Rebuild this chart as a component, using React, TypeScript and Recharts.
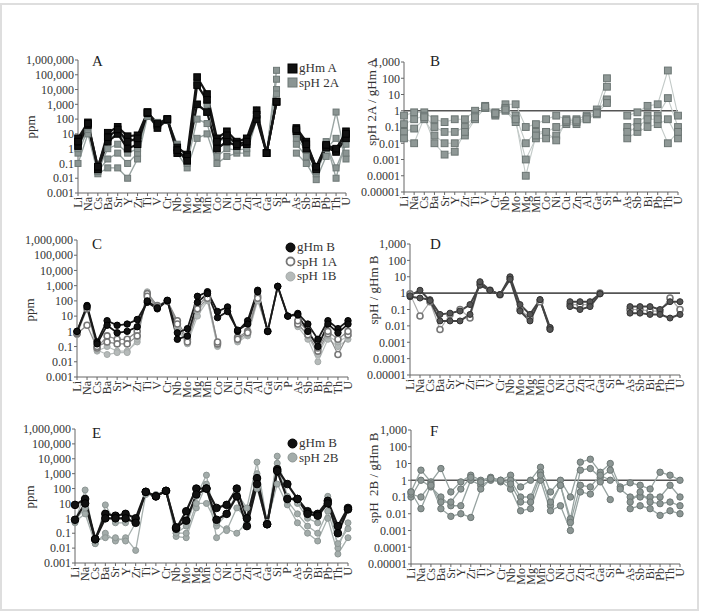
import React from "react";
import { LineChart, Line, XAxis, YAxis, ReferenceLine } from "recharts";

const FONT = '"Liberation Serif", "DejaVu Serif", serif';

const elements = ["Li","Na","Cs","Ba","Sr","Y","Zr","Ti","V","Cr","Nb","Mo","Mg","Mn","Co","Ni","Cu","Zn","Al","Ga","Si","P","As","Sb","Bi","Pb","Th","U"];

const ppmTicks = [0.001, 0.01, 0.1, 1, 10, 100, 1000, 10000, 100000, 1000000];
const ratioTicks = [0.00001, 0.0001, 0.001, 0.01, 0.1, 1, 10, 100, 1000];

// A: gHm A (black) and spH 2A (grey), ppm
const gHmA1 = [5, 60, 0.05, 12, 30, 7, 8, 300, 40, 100, 1.2, 0.4, 70000, 5000, 5, 15, 3, 5, 400, 0.5, 1500, null, 25, 3, 0.05, 1.5, 0.8, 15];
const gHmA2 = [1.5, 40, 0.04, 3, 10, 1, 2, 250, 25, 90, 0.5, 0.3, 1000, 300, 1, 3, 1.5, 2, 100, 0.5, 1500, null, 15, 1, 0.04, 1.2, 0.6, 5];
const gHmA3 = [3, 50, 0.06, 6, 20, 3, 5, 280, 50, 100, 0.8, 0.15, 20000, 2000, 3, 8, 2, 3, 200, 0.5, 1500, null, 20, 2, 0.06, 1.8, 1, 10];
const spH2A1 = [0.1, 10, 0.02, 0.05, 0.05, 0.01, 0.2, 150, 30, 80, 0.5, 0.05, 5, 10, 0.1, 0.3, 0.5, 0.5, 100, 0.5, 200000, null, 0.5, 0.1, 0.008, 0.3, 300, 0.2];
const spH2A2 = [0.5, 20, 0.03, 0.2, 0.5, 0.1, 0.5, 200, 40, 90, 1, 0.1, 100, 50, 0.3, 1, 0.8, 1, 100, 0.5, 50000, null, 2, 0.3, 0.02, 1, 5, 0.5];
const spH2A3 = [1, 30, 0.03, 1, 2, 0.5, 1, 250, 50, 100, 2, 0.2, 1000, 300, 1, 3, 1.5, 2, 120, 0.5, 10000, null, 5, 0.8, 0.03, 2, 0.05, 2];
const spH2A4 = [3, 50, 0.04, 5, 10, 3, 5, 300, 60, 110, 1.5, 0.3, 30000, 1000, 3, 5, 2, 3, 150, 0.5, 5000, null, 10, 1, 0.05, 3, 0.01, 5];

// B: spH 2A / gHm A
const ratB1 = [0.5, 0.8, 0.8, 0.3, 0.2, 0.3, 0.3, 1, 2, 0.8, 2.5, 2.5, 0.1, 0.15, 0.3, 0.5, 0.3, 0.3, 0.5, 1.2, 100, null, 0.5, 0.8, 2, 2.5, 300, 0.5];
const ratB2 = [0.15, 0.3, 0.5, 0.1, 0.05, 0.05, 0.1, 0.5, 1.5, 0.5, 1.5, 0.5, 0.01, 0.05, 0.05, 0.1, 0.15, 0.15, 0.3, 0.6, 30, null, 0.1, 0.2, 0.5, 0.5, 6, 0.1];
const ratB3 = [0.05, 0.08, 0.3, 0.03, 0.01, 0.01, 0.03, 0.3, 1.5, 0.6, 1, 0.2, 0.001, 0.02, 0.02, 0.03, 0.2, 0.2, 0.4, 0.8, 5, null, 0.02, 0.05, 0.1, 0.15, 0.3, 0.02];
const ratB4 = [0.02, 0.01, 0.4, 0.01, 0.002, 0.003, 0.05, 0.4, 1.8, 0.7, 1.2, 0.3, 0.0001, 0.03, 0.05, 0.015, 0.25, 0.25, 0.3, 0.7, 3, null, 0.05, 0.1, 0.3, 0.3, 0.01, 0.05];

// C: gHm B (black), spH 1A (rings), spH 1B (light)
const gHmBc1 = [1, 50, 0.2, 5, 2.5, 3, 6, 80, 30, 100, 0.8, 1.5, 200, 400, 20, 40, 1, 5, 500, 1, 900, 10, 15, 3, 0.3, 5, 1.5, 5];
const gHmBc2 = [1, 40, 0.15, 2.5, 0.8, 1, 2, 100, 35, 110, 0.3, 0.5, 80, 300, 8, 20, 1.2, 3, 400, 1, 900, 10, 12, 1, 0.1, 3, 0.8, 3];
const spH1A1 = [0.7, 2.5, 0.08, 0.5, 0.3, 0.3, 1, 300, 50, 100, 5, 0.3, 50, 200, 0.15, null, 0.4, 1, 200, 1, null, null, 3, 0.6, 0.05, 0.7, 0.03, 0.6];
const spH1A2 = [0.8, 30, 0.1, 0.2, 0.15, 0.15, 0.5, 200, 40, 100, 3, 0.2, 30, 150, 0.2, null, 0.3, 0.8, 150, 1, null, null, 5, 1, 0.08, 1, 0.3, 1];
const spH1B1 = [0.6, 30, 0.05, 0.1, 0.05, 0.05, 0.2, 400, 40, 100, 2, 0.15, 10, 100, 0.1, null, 0.2, 0.5, 100, 1, null, null, 2, 0.3, 0.01, 0.3, 0.1, 0.3];
const spH1B2 = [0.7, 50, 0.06, 0.03, 0.04, 0.04, 0.3, 350, 45, 100, 1, 0.2, 20, 120, 0.12, null, 0.25, 0.6, 150, 1, null, null, 3, 0.5, 0.03, 0.5, 0.2, 0.5];

// D: spH / gHm B
const ratD1 = [0.6, 0.5, 0.4, 0.05, 0.06, 0.08, 0.2, 3, 1.5, 0.8, 10, 0.2, 0.05, 0.4, 0.008, null, 0.3, 0.3, 0.3, 0.9, null, null, 0.15, 0.15, 0.15, 0.1, 0.3, 0.3];
const ratD2 = [0.7, 1.5, 0.35, 0.02, 0.02, 0.02, 0.05, 5, 1.5, 0.8, 7, 0.08, 0.02, 0.4, 0.006, null, 0.15, 0.1, 0.15, 0.9, null, null, 0.06, 0.06, 0.05, 0.05, 0.03, 0.05];
const ratD3 = [0.9, 0.04, 0.3, 0.006, 0.05, 0.1, 0.03, 4, 1.5, 0.8, 8, 0.1, 0.03, 0.3, 0.007, null, 0.2, 0.2, 0.2, 1, null, null, 0.1, 0.1, 0.08, 0.08, 0.5, 0.1];

// E: gHm B (black), spH 2B (grey)
const gHmBe1 = [8, 20, 0.04, 2, 1.5, 2, 1, 60, 30, 70, 0.2, 3, 100, 100, 5, 8, 100, 1, 500, 0.4, 2000, 200, 20, 3, 2, 15, 0.3, 5];
const gHmBe2 = [0.8, 10, 0.04, 1, 1, 1, 0.5, 60, 30, 70, 0.25, 0.7, 40, 100, 0.8, 2, 30, 0.3, 200, 0.4, 1500, 20, 20, 2, 1.5, 10, 0.1, 4];
const spH2B1 = [0.5, 80, 0.02, 8, 0.5, 0.5, 1, 50, 40, 70, 0.1, 0.3, 30, 800, 0.3, 2, 50, 5, 6000, 0.5, 15000, 30, 10, 1, 0.5, 30, 0.01, 0.5];
const spH2B2 = [0.6, 2, 0.02, 0.1, 0.03, 0.05, 0.007, 40, 30, 70, 0.06, 0.05, 5, 200, 0.05, 0.2, 0.1, 0.5, 100, 0.5, 200, 8, 0.5, 0.1, 0.03, 1, 0.004, 0.05];
const spH2B3 = [0.7, 5, 0.03, 0.05, 0.05, 0.03, 0.5, 50, 35, 70, 0.1, 0.1, 10, 10, 0.5, 0.15, 5, 1, 1000, 0.5, 5000, 15, 2, 0.3, 0.1, 3, 0.02, 0.2];

// F: spH 2B / gHm B
const ratF1 = [0.2, 4, 0.8, 5, 0.2, 0.8, 2, 1, 1.5, 1, 2, 0.4, 1, 6, 0.2, 1, 0.1, 12, 18, 3, 10, 0.4, 0.7, 0.5, 0.3, 3, 2, 1];
const ratF2 = [0.1, 1, 0.4, 0.1, 0.03, 0.03, 1, 0.5, 1, 0.8, 1, 0.1, 0.1, 3, 0.03, 0.5, 0.005, 4, 5, 1.5, 4, 0.3, 0.1, 0.1, 0.1, 0.1, 0.5, 0.1];
const ratF3 = [0.15, 0.1, 0.6, 0.02, 0.007, 0.01, 0.006, 0.3, 1.2, 0.9, 0.3, 0.015, 0.02, 1, 0.015, 0.03, 0.001, 0.2, 0.15, 0.8, 0.07, null, 0.02, 0.03, 0.02, 0.008, 0.015, 0.01];
const ratF4 = [0.2, 0.02, 0.5, 0.05, 0.05, 0.3, 1.5, 0.8, 1.3, 1, 0.6, 0.05, 0.05, 2, 0.05, 0.5, 0.003, 0.5, 0.4, 2, 1, null, 0.05, 0.2, 0.05, 0.04, 0.05, 0.03];

type S = { key: string; vals: (number | null)[]; stroke: string; sw: number; shape: "sq" | "dot" | "ring"; fill: string; edge: string; r: number };

const fmt = (v: number) => (v >= 1 ? v.toLocaleString("en-US") : String(v));

function makeRows(series: S[]) {
  return elements.map((el, i) => {
    const row: any = { el };
    series.forEach((s) => (row[s.key] = s.vals[i]));
    return row;
  });
}

function XTick(props: any) {
  const { x, y, payload } = props;
  return (
    <g transform={`translate(${x},${y})`}>
      <text x={-1} y={4} transform="rotate(-90)" textAnchor="end" fontSize={12} fontFamily={FONT} fill="#333">
        {payload.value}
      </text>
    </g>
  );
}

function dotFor(s: S) {
  return (p: any) => {
    const { cx, cy, index } = p;
    const k = `${s.key}-${index}`;
    if (cx == null || cy == null || p.value == null) return <g key={k} />;
    if (s.shape === "sq")
      return <rect key={k} x={cx - s.r} y={cy - s.r} width={s.r * 2} height={s.r * 2} fill={s.fill} stroke={s.edge} strokeWidth={1} />;
    if (s.shape === "ring")
      return <circle key={k} cx={cx} cy={cy} r={s.r} fill="#fff" stroke={s.edge} strokeWidth={1.6} />;
    return <circle key={k} cx={cx} cy={cy} r={s.r} fill={s.fill} stroke={s.edge} strokeWidth={1} />;
  };
}

type Box = { x: number; y: number; w: number; h: number };
type LegItem = { name: string; shape: "sq" | "dot" | "ring"; fill: string; edge: string };

function Panel({ box, series, ratio }: { box: Box; series: S[]; ratio?: boolean }) {
  const data = makeRows(series);
  return (
    <div style={{ position: "absolute", left: box.x - 60, top: box.y - 8 }}>
      <LineChart width={box.w + 66} height={box.h + 30} data={data} margin={{ top: 8, right: 6, left: 0, bottom: 0 }}>
        <XAxis dataKey="el" interval={0} tick={<XTick />} tickSize={3} tickMargin={0} height={22} axisLine={{ stroke: "#666" }} tickLine={{ stroke: "#666" }} />
        <YAxis
          scale="log"
          domain={ratio ? [0.00001, 1000] : [0.001, 1000000]}
          ticks={ratio ? ratioTicks : ppmTicks}
          allowDataOverflow
          width={60}
          tickFormatter={fmt}
          tickSize={3}
          tickMargin={1}
          interval={0}
          tick={{ fontSize: 12, fill: "#333", fontFamily: FONT }}
          axisLine={{ stroke: "#666" }}
          tickLine={{ stroke: "#666" }}
        />
        {ratio && <ReferenceLine y={1} stroke="#555" strokeWidth={1.6} />}
        {series.map((s) => (
          <Line key={s.key} type="linear" dataKey={s.key} stroke={s.stroke} strokeWidth={s.sw} dot={dotFor(s)} activeDot={false} isAnimationActive={false} />
        ))}
      </LineChart>
    </div>
  );
}

function LegendBox({ x, y, items }: { x: number; y: number; items: LegItem[] }) {
  return (
    <div style={{ position: "absolute", left: x, top: y, fontFamily: FONT, fontSize: 13, color: "#333", lineHeight: "14.5px" }}>
      {items.map((it) => (
        <div key={it.name} style={{ display: "flex", alignItems: "center" }}>
          <svg width={11} height={11} style={{ marginRight: 1 }}>
            {it.shape === "sq" ? (
              <rect x={1} y={1} width={9} height={9} fill={it.fill} stroke={it.edge} />
            ) : it.shape === "ring" ? (
              <circle cx={5.5} cy={5.5} r={4} fill="#fff" stroke={it.edge} strokeWidth={1.8} />
            ) : (
              <circle cx={5.5} cy={5.5} r={4.5} fill={it.fill} stroke={it.edge} />
            )}
          </svg>
          <span>{it.name}</span>
        </div>
      ))}
    </div>
  );
}

const blackSq = (key: string, vals: (number | null)[]): S => ({ key, vals, stroke: "#151515", sw: 2.2, shape: "sq", fill: "#111", edge: "#000", r: 3.3 });
const greySq = (key: string, vals: (number | null)[]): S => ({ key, vals, stroke: "#9aa5a3", sw: 1.4, shape: "sq", fill: "#8b9593", edge: "#6e7876", r: 3 });
const ratioSq = (key: string, vals: (number | null)[]): S => ({ key, vals, stroke: "#c3cac8", sw: 1.1, shape: "sq", fill: "#8f9896", edge: "#6b7573", r: 3.4 });
const blackDot = (key: string, vals: (number | null)[]): S => ({ key, vals, stroke: "#1a1a1a", sw: 1.8, shape: "dot", fill: "#111", edge: "#000", r: 3.2 });
const ringDot = (key: string, vals: (number | null)[]): S => ({ key, vals, stroke: "#8a8a8a", sw: 1.2, shape: "ring", fill: "#fff", edge: "#777", r: 3 });
const lightDot = (key: string, vals: (number | null)[]): S => ({ key, vals, stroke: "#b9bebd", sw: 1.2, shape: "dot", fill: "#b5bab9", edge: "#a5aaa9", r: 3 });
const darkRatio = (key: string, vals: (number | null)[]): S => ({ key, vals, stroke: "#444", sw: 2, shape: "dot", fill: "#555", edge: "#333", r: 3 });
const greyDot = (key: string, vals: (number | null)[]): S => ({ key, vals, stroke: "#a7b0ae", sw: 1.3, shape: "dot", fill: "#a3acaa", edge: "#8d9694", r: 3 });
const fRatio = (key: string, vals: (number | null)[]): S => ({ key, vals, stroke: "#97a3a1", sw: 1.3, shape: "dot", fill: "#8c9694", edge: "#6d7775", r: 3.2 });

const letterStyle = (x: number, y: number): React.CSSProperties => ({ position: "absolute", left: x, top: y, fontFamily: FONT, fontSize: 15, color: "#222", lineHeight: "15px" });
const yLabel = (cx: number, cy: number, text: string) => (
  <div style={{ position: "absolute", left: cx, top: cy, transform: "translate(-50%,-50%) rotate(-90deg)", whiteSpace: "pre", fontFamily: FONT, fontSize: 13, color: "#333" }}>{text}</div>
);

export default function App() {
  return (
    <div style={{ position: "absolute", left: 0, top: 0, width: 702, height: 613, background: "#fff", overflow: "hidden" }}>
      <div style={{ position: "absolute", left: 0, top: 3, width: 699, height: 608, border: "2px solid #dedede", boxSizing: "border-box" }} />

      <Panel
        box={{ x: 78, y: 60, w: 268, h: 133 }}
        series={[greySq("s1", spH2A1), greySq("s2", spH2A2), greySq("s3", spH2A3), greySq("s4", spH2A4), blackSq("g1", gHmA1), blackSq("g2", gHmA2), blackSq("g3", gHmA3)]}
      />
      <Panel box={{ x: 404, y: 62, w: 274, h: 130 }} ratio series={[ratioSq("b1", ratB1), ratioSq("b2", ratB2), ratioSq("b3", ratB3), ratioSq("b4", ratB4)]} />

      <Panel
        box={{ x: 77, y: 240, w: 271, h: 137 }}
        series={[lightDot("l1", spH1B1), lightDot("l2", spH1B2), ringDot("r1", spH1A1), ringDot("r2", spH1A2), blackDot("g1", gHmBc1), blackDot("g2", gHmBc2)]}
      />
      <Panel box={{ x: 410, y: 244, w: 270, h: 131 }} ratio series={[{ ...ringDot("d3", ratD3), stroke: "#aaa" }, darkRatio("d1", ratD1), darkRatio("d2", ratD2)]} />

      <Panel
        box={{ x: 75, y: 429, w: 273, h: 134 }}
        series={[greyDot("s1", spH2B1), greyDot("s2", spH2B2), greyDot("s3", spH2B3), { ...blackDot("g1", gHmBe1), r: 3.8, sw: 2.2 }, { ...blackDot("g2", gHmBe2), r: 3.8, sw: 2.2 }]}
      />
      <Panel box={{ x: 411, y: 430, w: 269, h: 134 }} ratio series={[fRatio("f1", ratF1), fRatio("f2", ratF2), fRatio("f3", ratF3), fRatio("f4", ratF4)]} />

      <LegendBox x={287} y={61} items={[{ name: "gHm A", shape: "sq", fill: "#111", edge: "#000" }, { name: "spH 2A", shape: "sq", fill: "#8b9593", edge: "#6e7876" }]} />
      <LegendBox
        x={285}
        y={240}
        items={[
          { name: "gHm B", shape: "dot", fill: "#111", edge: "#000" },
          { name: "spH 1A", shape: "ring", fill: "#fff", edge: "#777" },
          { name: "spH 1B", shape: "dot", fill: "#b5bab9", edge: "#a5aaa9" },
        ]}
      />
      <LegendBox x={287} y={436} items={[{ name: "gHm B", shape: "dot", fill: "#111", edge: "#000" }, { name: "spH 2B", shape: "dot", fill: "#a3acaa", edge: "#8d9694" }]} />

      <div style={letterStyle(92, 54)}>A</div>
      <div style={letterStyle(430, 54)}>B</div>
      <div style={letterStyle(92, 237)}>C</div>
      <div style={letterStyle(430, 237)}>D</div>
      <div style={letterStyle(92, 426)}>E</div>
      <div style={letterStyle(430, 424)}>F</div>

      {yLabel(31, 127, "ppm")}
      {yLabel(372, 102, "spH 2A / gHm A")}
      {yLabel(30, 310, "ppm")}
      {yLabel(374, 290, "spH / gHm B")}
      {yLabel(30, 497, "ppm")}
      {yLabel(374, 478, "spH  2B / gHm B")}
    </div>
  );
}
